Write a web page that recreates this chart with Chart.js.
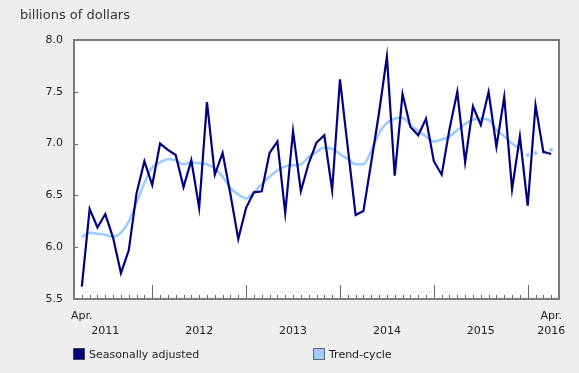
<!DOCTYPE html>
<html>
<head>
<meta charset="utf-8">
<script src="https://cdn.jsdelivr.net/npm/chart.js@4.4.1/dist/chart.umd.min.js"></script>
<style>
  body { margin: 0; background: #eeeeee; font-family: "DejaVu Sans", Verdana, sans-serif; }
  #wrap { position: relative; width: 579px; height: 373px; }
  #title { position: absolute; left: 20px; top: 7px; font-size: 13px; color: #333; }
  .leg { position: absolute; top: 348px; font-size: 11px; color: #222; line-height: 13px; }
  .leg span { display: inline-block; width: 10px; height: 10px; border: 1px solid #444; vertical-align: -2px; margin-right: 4px; }
</style>
</head>
<body>
<div id="wrap">
  <canvas id="chart" width="579" height="373"></canvas>
  <div id="title">billions of dollars</div>
  <div class="leg" style="left:73px"><span style="background:#000080"></span>Seasonally adjusted</div>
  <div class="leg" style="left:313px"><span style="background:#99ccff;border-color:#666"></span>Trend-cycle</div>
</div>
<script>
// monthly, April 2011 to April 2016
const startYear = 2011, startMonth = 3; // April (0-based)
const years = ["2011", "2012", "2013", "2014", "2015", "2016"];

const seasonallyAdjusted = [
  5.62, 6.37, 6.19, 6.32, 6.09, 5.75, 5.97, 6.52, 6.83, 6.60, 7.00, 6.94,
  6.89, 6.58, 6.84, 6.38, 7.40, 6.70, 6.91, 6.51, 6.08, 6.38, 6.53, 6.54,
  6.91, 7.02, 6.33, 7.12, 6.54, 6.81, 7.01, 7.08, 6.55, 7.62, 6.96, 6.31,
  6.35, 6.82, 7.30, 7.84, 6.69, 7.48, 7.16, 7.08, 7.24, 6.83, 6.70, 7.14,
  7.50, 6.82, 7.36, 7.18, 7.50, 6.97, 7.45, 6.56, 7.07, 6.40, 7.37, 6.92,
  6.90
];
const trendCycle = [
  6.10, 6.14, 6.13, 6.12, 6.10, 6.14, 6.25, 6.43, 6.62, 6.77, 6.82, 6.85,
  6.84, 6.80, 6.82, 6.81, 6.80, 6.76, 6.68, 6.57, 6.51, 6.47, 6.53, 6.61,
  6.68, 6.74, 6.78, 6.79, 6.80, 6.87, 6.92, 6.96, 6.95, 6.90, 6.85, 6.80,
  6.80, 6.93, 7.10, 7.20, 7.24, 7.25, 7.18, 7.12, 7.07, 7.02, 7.04, 7.07,
  7.13, 7.19, 7.23, 7.24, 7.23, 7.13, 7.07, 7.00, 6.95, 6.89, 6.91, 6.92,
  6.94
];
const trendProvisionalFrom = 57; // last points shown as dots only
const yTicks = [5.5, 6.0, 6.5, 7.0, 7.5, 8.0];

const n = seasonallyAdjusted.length;
const monthOf = i => (startMonth + i) % 12;
const yearOf = i => startYear + Math.floor((startMonth + i) / 12);

function tickLabel(i) {
  if (i < 0 || i >= n || i !== Math.round(i)) return "";
  if (i === 0) return ["Apr.", ""];
  if (i === n - 1) return ["Apr.", String(yearOf(i))];
  if (monthOf(i) === 6 && years.includes(String(yearOf(i)))) return ["", String(yearOf(i))];
  return "";
}

const frame = {
  id: "frame",
  beforeDraw(chart) {
    const { ctx, chartArea: a } = chart;
    ctx.save();
    ctx.fillStyle = "#ffffff";
    ctx.fillRect(a.left, a.top, a.right - a.left, a.bottom - a.top);
    ctx.restore();
  },
  beforeDatasetsDraw(chart) {
    const { ctx, chartArea: a, scales } = chart;
    ctx.save();
    ctx.strokeStyle = "#666";
    ctx.lineWidth = 1;
    ctx.beginPath();
    for (let i = 0; i < n; i++) {
      const x = Math.round(scales.x.getPixelForValue(i)) + 0.5;
      const len = monthOf(i) === 0 ? 14 : 4;
      ctx.moveTo(x, a.bottom);
      ctx.lineTo(x, a.bottom - len);
    }
    yTicks.forEach(v => {
      const y = Math.round(scales.y.getPixelForValue(v)) + 0.5;
      ctx.moveTo(a.left, y);
      ctx.lineTo(a.left + 4, y);
    });
    ctx.stroke();
    ctx.restore();
  },
  afterDraw(chart) {
    const { ctx, chartArea: a } = chart;
    ctx.save();
    ctx.strokeStyle = "#7a7a7a";
    ctx.lineWidth = 2;
    ctx.strokeRect(a.left, a.top, a.right - a.left, a.bottom - a.top);
    ctx.restore();
  }
};

Chart.defaults.font.family = '"DejaVu Sans", Verdana, sans-serif';
Chart.defaults.font.size = 11;
Chart.defaults.color = "#222";

new Chart(document.getElementById("chart"), {
  type: "line",
  data: {
    datasets: [{
      label: "Seasonally adjusted",
      data: seasonallyAdjusted.map((v, i) => ({ x: i, y: v })),
      borderColor: "#000080",
      borderWidth: 2.2,
      pointRadius: 0,
      tension: 0
    }, {
      label: "Trend-cycle",
      data: trendCycle.map((v, i) => ({ x: i, y: v })),
      borderColor: "#99ccff",
      backgroundColor: "#99ccff",
      borderWidth: 2.5,
      pointRadius: ctx => ctx.dataIndex >= trendProvisionalFrom ? 2 : 0,
      pointBorderWidth: 0,
      cubicInterpolationMode: "monotone",
      segment: {
        borderColor: ctx => ctx.p1DataIndex >= trendProvisionalFrom ? "rgba(0,0,0,0)" : "#99ccff"
      }
    }]
  },
  options: {
    responsive: false,
    animation: false,
    devicePixelRatio: 1,
    layout: { padding: { top: 40, right: 20, left: 0, bottom: 0 } },
    plugins: { legend: { display: false }, tooltip: { enabled: false } },
    scales: {
      x: {
        type: "linear",
        min: -1,
        max: n,
        grid: { display: false, drawTicks: false },
        border: { display: false },
        ticks: {
          stepSize: 1,
          autoSkip: false,
          maxRotation: 0,
          padding: 9,
          font: { size: 11, lineHeight: 1.4 },
          callback: v => tickLabel(v)
        },
        afterFit: s => { s.height = 74; }
      },
      y: {
        min: 5.5,
        max: 8.0,
        grid: { display: false, drawTicks: false },
        border: { display: false },
        ticks: {
          stepSize: 0.5,
          padding: 11,
          callback: v => yTicks.includes(v) ? v.toFixed(1) : ""
        },
        afterFit: s => { s.width = 74; }
      }
    }
  },
  plugins: [frame]
});
</script>
</body>
</html>
